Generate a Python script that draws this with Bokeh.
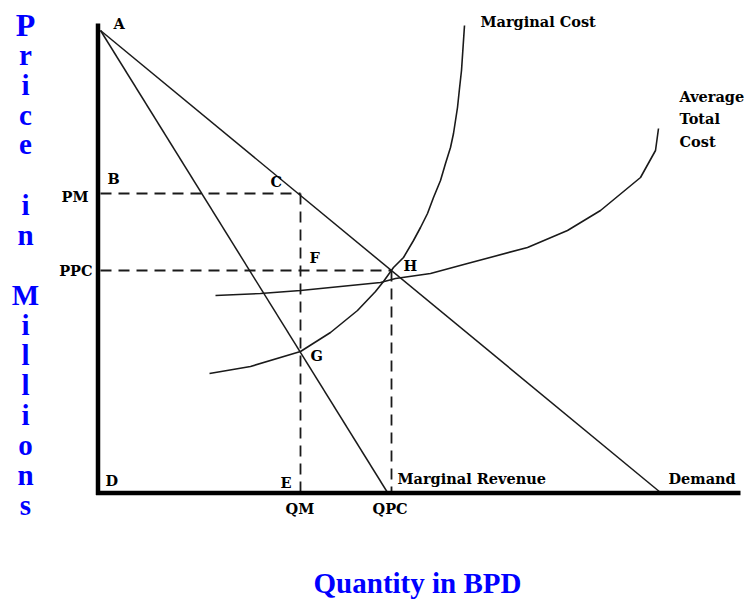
from bokeh.plotting import figure
from bokeh.models import Range1d, ColumnDataSource
from bokeh.core.properties import value
from bokeh.embed import file_html
from bokeh.resources import INLINE

# ---- data (quantity units to the right of origin, price units above origin) ----
demand_q = [0, 560]
demand_p = [462, 0]
mr_q = [0, 287]
mr_p = [462, 0]
mc_q = [109, 150, 200, 230, 257, 275, 283, 293, 303, 313, 320, 327, 333, 340, 345, 350, 353, 357, 359, 361, 364]
mc_p = [119, 126, 141, 160, 182, 201, 211, 225, 235, 252, 265, 279, 295, 312, 329, 345, 359, 385, 404, 422, 467]
atc_q = [115, 160, 200, 250, 280, 295, 330, 367, 427, 467, 500, 540, 555, 558]
atc_p = [197, 199, 202, 207, 210, 214, 219, 229, 245, 262, 282, 315, 342, 364]
qm, qpc = 200, 291
pm, ppc = 299, 222
axis_q_max = 640
axis_p_max = 469

# point labels: text, q, p (baseline-left)
pt_text = ["A", "B", "C", "F", "H", "G", "D", "E", "QM", "QPC",
           "Marginal Cost", "Average", "Total", "Cost", "Marginal Revenue", "Demand"]
pt_q = [13, 7, 170, 209, 303, 210, 5, 180, 185, 272, 380, 579, 579, 579, 297, 568]
pt_p = [469, 314, 311, 235, 227, 137, 12, 10, -16, -16, 471, 396, 374, 351, 14, 14]
tick_text = ["PM", "PPC"]
tick_q = [-12, -8]
tick_p = [296, 222]

ylabel = "Price\nin\nMillions"
xlabel = "Quantity in BPD"

p = figure(width=749, height=603, output_backend="svg", toolbar_location=None,
           x_range=Range1d(-100, 649), y_range=Range1d(-111, 492),
           min_border=0, outline_line_color=None)
p.axis.visible = False
p.grid.visible = False

ink = "#1a1a1a"
# dashed guides
p.line([0, qm], [pm, pm], line_color=ink, line_width=1.8, line_dash="11 7")
p.line([qm, qm], [pm, 0], line_color=ink, line_width=1.8, line_dash="11 7")
p.line([0, qpc], [ppc, ppc], line_color=ink, line_width=1.8, line_dash="11 7")
p.line([qpc, qpc], [ppc, 0], line_color=ink, line_width=1.8, line_dash="11 7")

# curves
p.line(demand_q, demand_p, line_color=ink, line_width=1.5)
p.line(mr_q, mr_p, line_color=ink, line_width=1.5)
p.line(mc_q, mc_p, line_color=ink, line_width=1.6)
p.line(atc_q, atc_p, line_color=ink, line_width=1.6)

# axes
p.line([-2.5, -2.5], [-2.5, axis_p_max], line_color="black", line_width=4.5)
p.line([-4.5, axis_q_max], [-0.5, -0.5], line_color="black", line_width=4.5)

font = value("DejaVu Serif")
src = ColumnDataSource(dict(x=pt_q, y=pt_p, t=pt_text))
p.text(x="x", y="y", text="t", source=src, text_font=font, text_font_style="bold",
       text_font_size="14.5px", text_color="black", text_align="left", text_baseline="alphabetic")
src2 = ColumnDataSource(dict(x=tick_q, y=tick_p, t=tick_text))
p.text(x="x", y="y", text="t", source=src2, text_font=font, text_font_style="bold",
       text_font_size="14.5px", text_color="black", text_align="right", text_baseline="alphabetic")

# vertical stacked y label
letters, ly = [], []
k = 0
for ch in ylabel:
    if ch == "\n":
        k += 1
        continue
    letters.append(ch)
    ly.append(468 - 30 * k)
    k += 1
lx = [-75] * len(letters)
sizes = ["32px" if c == "P" else "29px" for c in letters]
src3 = ColumnDataSource(dict(x=lx, y=ly, t=letters, s=sizes))
p.text(x="x", y="y", text="t", source=src3, text_font=value("Liberation Serif"),
       text_font_style="bold", text_font_size="s", text_color="#0000ff",
       text_align="center", text_baseline="alphabetic")

p.text(x=[317], y=[-90], text=[xlabel], text_font=value("Liberation Serif"),
       text_font_style="bold", text_font_size="29px", text_color="#0000ff",
       text_align="center", text_baseline="alphabetic")

open("out.html", "w").write(file_html(p, INLINE))
